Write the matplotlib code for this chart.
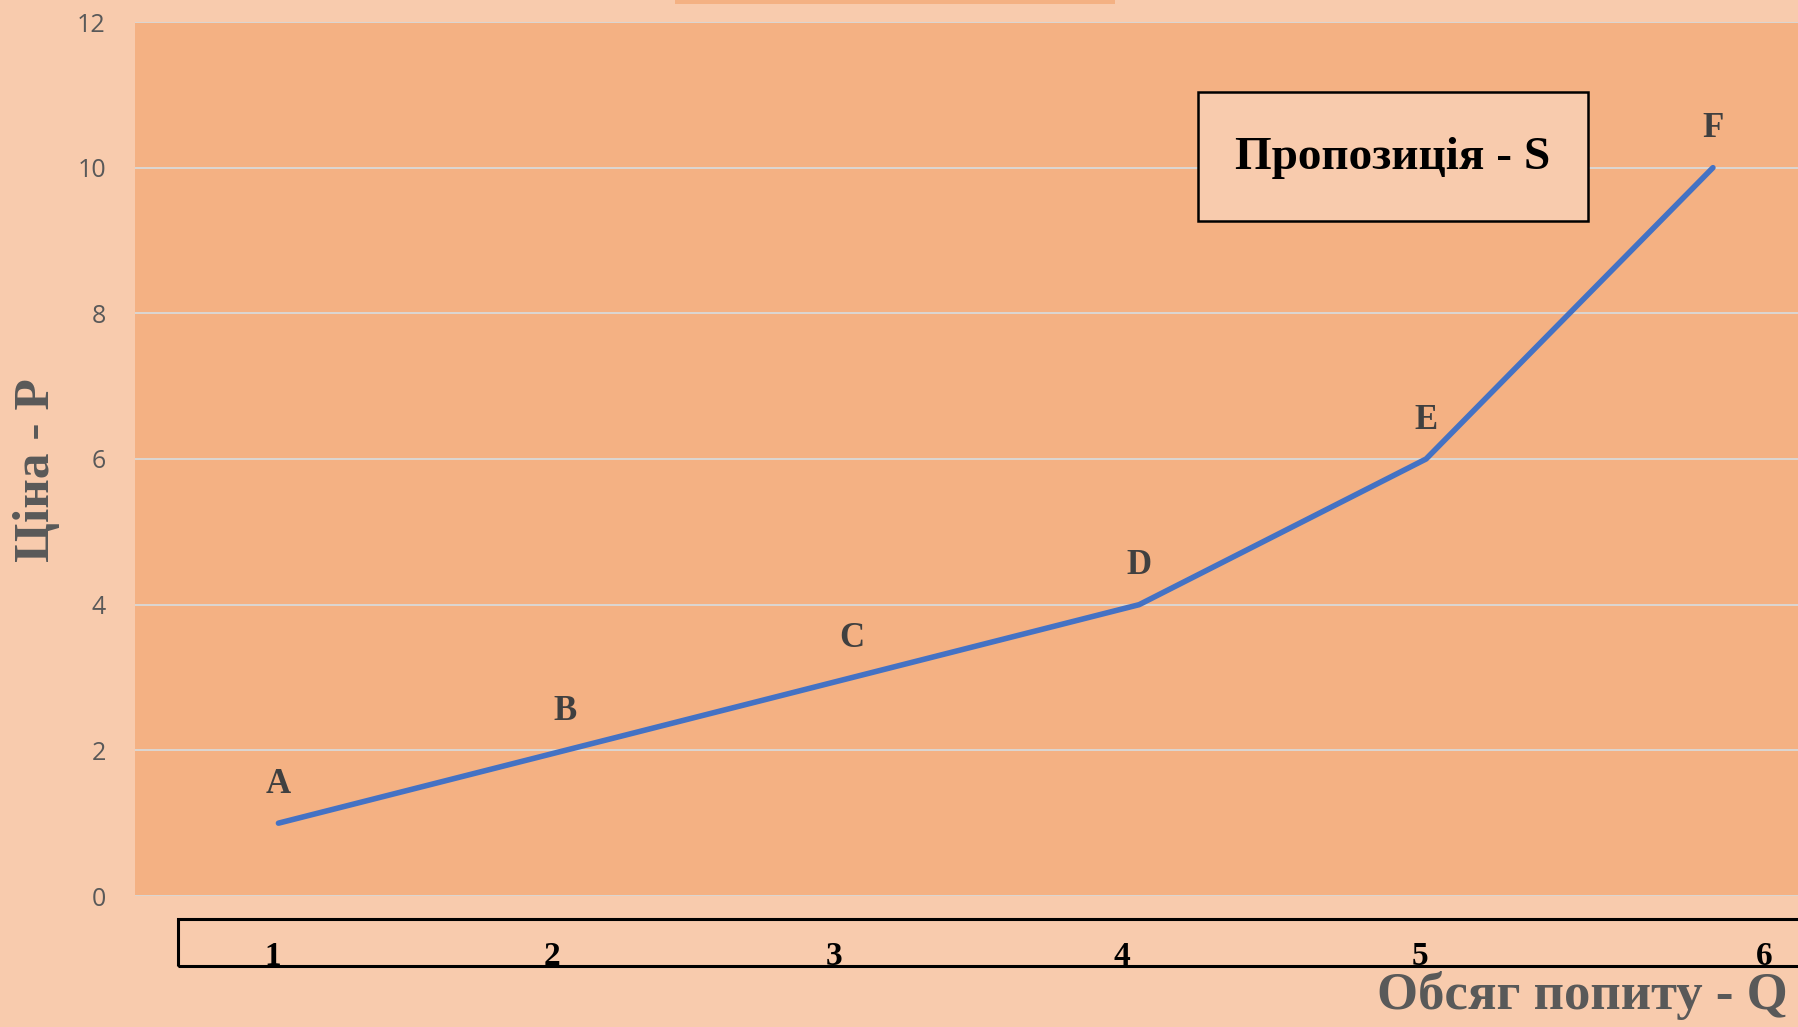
import matplotlib
matplotlib.use("Agg")
import matplotlib.pyplot as plt
import matplotlib.patches as mpatches
import matplotlib.transforms as mtransforms

# дані пропозиції
quantity = [1, 2, 3, 4, 5, 6]
price = [1, 2, 3, 4, 6, 10]
point_names = ["A", "B", "C", "D", "E", "F"]
x_tick_labels = ["1", "2", "3", "4", "5", "6"]
y_ticks = [0, 2, 4, 6, 8, 10, 12]

fig_bg = "#F8CBAD"
plot_bg = "#F4B183"
gray = "#595959"
serif = "Liberation Serif"

W, H = 1799, 1027
fig = plt.figure(figsize=(W / 100, H / 100), dpi=100, facecolor=fig_bg)

# область графіка (праворуч виходить за межі картинки)
ax = fig.add_axes([135 / W, 1 - 896 / H, 1 - 135 / W, (896 - 22) / H])
ax.set_facecolor(plot_bg)
ax.plot(quantity, price, color="#4472C4", linewidth=4, solid_capstyle="round", zorder=3)
for q, p, name in zip(quantity, price, point_names):
    ax.annotate(name, (q, p), xytext=(0, 28), textcoords="offset points",
                ha="center", va="center", fontsize=25, fontweight="bold",
                family=serif, color="#404040")

ax.set_xlim(0.5, 6.3)
ax.set_ylim(0, 12)
ax.set_yticks(y_ticks)
ax.set_xticks([])
ax.grid(axis="y", color="#D9D9D9", linewidth=1.3, zorder=1)
ax.set_axisbelow(True)
for s in ax.spines.values():
    s.set_visible(False)
ax.tick_params(axis="y", length=0, pad=21, labelsize=18, labelcolor=gray)
for lbl in ax.get_yticklabels():
    lbl.set_family("Open Sans")

# підпис легенди
ax.add_patch(mpatches.Rectangle((0.639, 0.772), 0.234, 0.148, transform=ax.transAxes,
                                facecolor=fig_bg, edgecolor="black", linewidth=1.8, zorder=4))
ax.text(0.756, 0.844, "Пропозиція - S", transform=ax.transAxes, ha="center", va="center",
        fontsize=34, fontweight="bold", family=serif, color="black", zorder=5)

# рамка з підписами осі X
fig.patches.append(mpatches.Rectangle((178 / W, 1 - 966 / H), 1.0, (966 - 919) / H,
                                      transform=fig.transFigure, facecolor="none",
                                      edgecolor="black", linewidth=2.2, clip_on=False))
tick_shift = [-0.02, -0.045, -0.065, -0.06, -0.02, 0.18]
blend = mtransforms.blended_transform_factory(ax.transData, fig.transFigure)
for q, sh, lbl in zip(quantity, tick_shift, x_tick_labels):
    fig.text(q + sh, 1 - 965 / H, lbl, transform=blend, ha="center", va="baseline",
             fontsize=24, fontweight="bold", family=serif, color="black")

# обрізана назва зверху
fig.patches.append(mpatches.Rectangle((675 / W, 1 - 4 / H), (1115 - 675) / W, 4 / H,
                                      transform=fig.transFigure, facecolor=plot_bg,
                                      edgecolor="none"))

fig.text(37 / W, 1 - 470 / H, "Ціна - P", rotation=90, ha="center", va="center",
         fontsize=37, fontweight="bold", family=serif, color=gray)
fig.text(1582 / W, 1 - 996 / H, "Обсяг попиту - Q", ha="center", va="center",
         fontsize=38, fontweight="bold", family=serif, color=gray)

plt.savefig("out.png", dpi=100, facecolor=fig_bg)
